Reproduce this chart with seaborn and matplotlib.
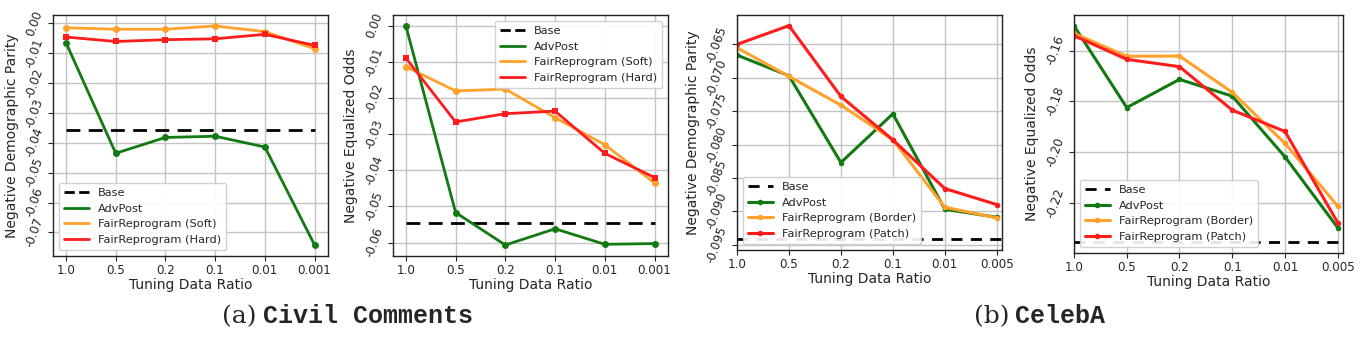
import numpy as np
import pandas as pd
import matplotlib
matplotlib.use("Agg")
import matplotlib.pyplot as plt
import seaborn as sns

# ---- data -------------------------------------------------------------
civil_ratios = ["1.0", "0.5", "0.2", "0.1", "0.01", "0.001"]
celeba_ratios = ["1.0", "0.5", "0.2", "0.1", "0.01", "0.005"]

# Civil Comments: negative demographic parity
civ_dp_base = -0.0357
civ_dp_advpost = [-0.0065, -0.0435, -0.0382, -0.0378, -0.0414, -0.0742]
civ_dp_soft = [-0.0015, -0.0020, -0.0020, -0.0009, -0.0028, -0.0085]
civ_dp_hard = [-0.0046, -0.0061, -0.0055, -0.0052, -0.0037, -0.0074]

# Civil Comments: negative equalized odds
civ_eo_base = -0.0545
civ_eo_advpost = [0.0000, -0.0517, -0.0607, -0.0562, -0.0605, -0.0603]
civ_eo_soft = [-0.0113, -0.0180, -0.0175, -0.0254, -0.0329, -0.0435]
civ_eo_hard = [-0.0089, -0.0266, -0.0243, -0.0236, -0.0353, -0.0420]

# CelebA: negative demographic parity
cel_dp_base = -0.0942
cel_dp_advpost = [-0.0666, -0.0697, -0.0827, -0.0754, -0.0897, -0.0909]
cel_dp_border = [-0.0655, -0.0698, -0.0741, -0.0793, -0.0894, -0.0910]
cel_dp_patch = [-0.0650, -0.0622, -0.0728, -0.0793, -0.0866, -0.0890]

# CelebA: negative equalized odds
cel_eo_base = -0.2354
cel_eo_advpost = [-0.1502, -0.1824, -0.1713, -0.1779, -0.2018, -0.2297]
cel_eo_border = [-0.1532, -0.1622, -0.1621, -0.1764, -0.1965, -0.2212]
cel_eo_patch = [-0.1541, -0.1634, -0.1663, -0.1834, -0.1918, -0.2277]

GREEN = "#137a13"
ORANGE = "#ffa12a"
RED = "#ff1c1c"

sns.set_style("ticks")
plt.rcParams["font.family"] = ["DejaVu Sans"]
plt.rcParams["axes.edgecolor"] = "#222222"

fig = plt.figure(figsize=(13.64, 3.41), dpi=100)

TICK_FS = 8.6
LABEL_FS = 10
LEGEND_FS = 8.2


def style_axes(ax, ylabel):
    ax.grid(True, color="#c4c4c4", linewidth=1.0)
    ax.set_axisbelow(True)
    for s in ax.spines.values():
        s.set_visible(True)
        s.set_linewidth(1.0)
    ax.set_xlabel("Tuning Data Ratio", fontsize=LABEL_FS, labelpad=1)
    ax.set_ylabel(ylabel, fontsize=LABEL_FS, labelpad=3)
    ax.tick_params(axis="both", labelsize=TICK_FS, pad=2)
    for lab in ax.get_yticklabels():
        lab.set_rotation(70)
        lab.set_va("center")


def civil_panel(rect, ratios, base, adv, soft, hard, ylabel, loc, yticks):
    ax = fig.add_axes(rect)
    x = np.arange(len(ratios))
    sns.lineplot(x=x, y=[base] * len(x), ax=ax, color="black", lw=2,
                 linestyle=(0, (5, 3)), label="Base")
    sns.lineplot(x=x, y=adv, ax=ax, color=GREEN, lw=2, marker="o",
                 markersize=5, markeredgewidth=0, label="AdvPost")
    sns.lineplot(x=x, y=soft, ax=ax, color=ORANGE, lw=2, marker="o",
                 markersize=5, markeredgewidth=0, label="FairReprogram (Soft)")
    sns.lineplot(x=x, y=hard, ax=ax, color=RED, lw=2, marker="s",
                 markersize=5, markeredgewidth=0, label="FairReprogram (Hard)")
    ax.set_xticks(x)
    ax.set_xticklabels(ratios)
    ax.set_xlim(-0.26, 5.27)
    ax.set_yticks(yticks)
    ax.yaxis.set_major_formatter(matplotlib.ticker.FormatStrFormatter("%.2f"))
    handles, labels = ax.get_legend_handles_labels()
    lines = [plt.Line2D([], [], color=h.get_color(), lw=2,
                        linestyle=h.get_linestyle()) for h in handles]
    ax.legend(lines, labels, loc=loc, fontsize=LEGEND_FS, framealpha=0.9,
              handlelength=2.2, borderpad=0.45, labelspacing=0.5)
    style_axes(ax, ylabel)
    return ax


def celeba_panel(rect, ratios, base, adv, border, patch, ylabel, yticks, fmt):
    ax = fig.add_axes(rect)
    x = np.arange(len(ratios))
    ax.axhline(base, color="black", lw=2, linestyle=(0, (4, 3)), label="Base")
    sns.lineplot(x=x, y=adv, ax=ax, color=GREEN, lw=2.2, marker="o",
                 markersize=4, markeredgewidth=0, label="AdvPost")
    sns.lineplot(x=x, y=border, ax=ax, color=ORANGE, lw=2.2, marker="o",
                 markersize=4, markeredgewidth=0, label="FairReprogram (Border)")
    sns.lineplot(x=x, y=patch, ax=ax, color=RED, lw=2.2, marker="o",
                 markersize=4, markeredgewidth=0, label="FairReprogram (Patch)")
    ax.set_xticks(x)
    ax.set_xticklabels(ratios)
    ax.set_xlim(0, 5.1)
    ax.set_yticks(yticks)
    ax.yaxis.set_major_formatter(matplotlib.ticker.FormatStrFormatter(fmt))
    ax.legend(loc="lower left", fontsize=LEGEND_FS, framealpha=0.9,
              handlelength=2.2, borderpad=0.45, labelspacing=0.5)
    style_axes(ax, ylabel)
    return ax


civil_panel([0.0389, 0.2493, 0.2016, 0.7067], civil_ratios, civ_dp_base,
            civ_dp_advpost, civ_dp_soft, civ_dp_hard,
            "Negative Demographic Parity", "lower left",
            np.round(np.arange(-0.07, 0.0001, 0.01), 2))
civil_panel([0.2881, 0.2493, 0.2016, 0.7067], civil_ratios, civ_eo_base,
            civ_eo_advpost, civ_eo_soft, civ_eo_hard,
            "Negative Equalized Odds", "upper right",
            np.round(np.arange(-0.06, 0.0001, 0.01), 2))
celeba_panel([0.5403, 0.2669, 0.1943, 0.6891], celeba_ratios, cel_dp_base,
             cel_dp_advpost, cel_dp_border, cel_dp_patch,
             "Negative Demographic Parity",
             np.round(np.arange(-0.095, -0.0649, 0.005), 3), "%.3f")
celeba_panel([0.7874, 0.2581, 0.1972, 0.6980], celeba_ratios, cel_eo_base,
             cel_eo_advpost, cel_eo_border, cel_eo_patch,
             "Negative Equalized Odds",
             np.round(np.arange(-0.22, -0.159, 0.02), 2), "%.2f")

# sub-figure captions
cap_y = 0.072
fig.text(257 / 1364, cap_y, "(a)", ha="right", va="center", fontsize=18,
         family="DejaVu Serif")
fig.text(263 / 1364, cap_y, "Civil Comments", ha="left", va="center",
         fontsize=18, family="Liberation Mono", weight="bold")
fig.text(1010 / 1364, cap_y, "(b)", ha="right", va="center", fontsize=18,
         family="DejaVu Serif")
fig.text(1015 / 1364, cap_y, "CelebA", ha="left", va="center",
         fontsize=18, family="Liberation Mono", weight="bold")

fig.savefig("out.png", dpi=100)
